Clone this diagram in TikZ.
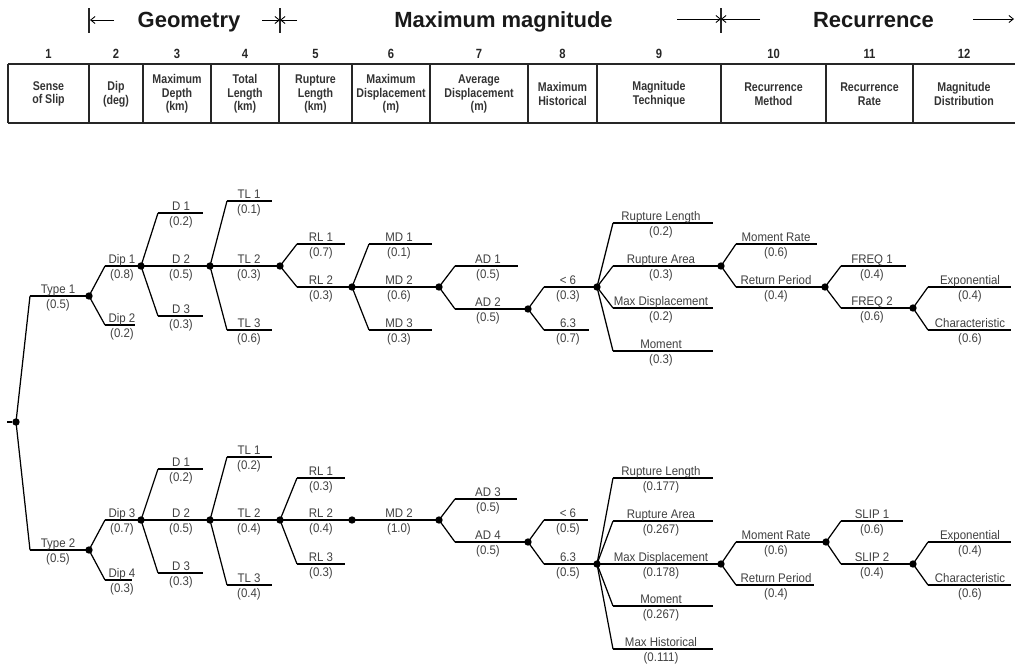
\documentclass[tikz,border=0pt]{standalone}
\usepackage{fontspec}
\setmainfont{Liberation Sans}
\newfontfamily\narrowfont{Liberation Sans}[FakeStretch=0.92]
\newfontfamily\headfont{Liberation Sans}[FakeStretch=0.84]
\usetikzlibrary{arrows.meta}

% one branch: style, name, parent dot, bend x, y, end x, label x, text, weight
\newcommand{\branch}[9]{%
  \coordinate (#2-b) at (#4,#5);
  \coordinate (#2-e) at (#6,#5);
  \draw[slantline] (#3.center) -- (#2-b);
  \draw[#1] (#2-b) -- (#2-e);
  \node[lbl] (#2-t) at (#7,#5-2.7) {#8};
  \node[lbl] (#2-p) at (#7,#5+12) {(#9)};
}

\begin{document}
\begin{tikzpicture}[x=0.02cm, y=-0.02cm,
  slantline/.style={line width=0.7pt},
  hthick/.style={line width=1.2pt},
  hthin/.style={line width=0.7pt},
  tabline/.style={line width=0.6pt, black!85},
  dot/.style={circle, fill=black, inner sep=0pt, minimum size=4.2pt},
  lbl/.style={anchor=base, inner sep=0pt, text=black!75, font=\narrowfont\fontsize{7.1}{8}\selectfont},
  headcell/.style={align=center, inner sep=0pt, text=black!80, font=\headfont\bfseries\fontsize{7.2}{7.8}\selectfont},
  colnum/.style={anchor=base, inner sep=0pt, text=black!85, font=\headfont\bfseries\fontsize{7.6}{8}\selectfont},
  bigtitle/.style={anchor=base, inner sep=0pt, text=black!90, font=\bfseries\fontsize{12.5}{14}\selectfont},
  spanarrow/.style={line width=0.5pt, -{Straight Barb[length=2.5pt,width=4pt]}}]
  \useasboundingbox (0,0) rectangle (1015,664);

  % ---------- Groups ----------
  \node[bigtitle] (geo) at (189,27) {Geometry};
  \node[bigtitle] (mag) at (503.5,27) {Maximum magnitude};
  \node[bigtitle] (rec) at (873.5,27) {Recurrence};
  \foreach \x in {89,280,721}
    \draw[tabline] (\x,8) -- (\x,33);
  \draw[spanarrow] (114,20) -- (90,20);
  \draw[spanarrow] (262,20) -- (280,20);
  \draw[spanarrow] (297,20) -- (280,20);
  \draw[spanarrow] (677,19) -- (721,19);
  \draw[spanarrow] (760,19) -- (721,19);
  \draw[spanarrow] (973,19) -- (1014,19);

  % ---------- Table ----------
  \draw[tabline] (8,64) -- (1015,64);
  \draw[tabline] (8,123) -- (1015,123);
  \foreach \x in {8,89,143,211,279,352,430,528,597,721,826,913}
    \draw[tabline] (\x,64) -- (\x,123);
  \foreach \i/\cx/\txt in {1/48.5/{Sense\\of Slip}, 2/116/{Dip\\(deg)},
      3/177/{Maximum\\Depth\\(km)}, 4/245/{Total\\Length\\(km)},
      5/315.5/{Rupture\\Length\\(km)}, 6/391/{Maximum\\Displacement\\(m)},
      7/479/{Average\\Displacement\\(m)}, 8/562.5/{Maximum\\Historical},
      9/659/{Magnitude\\Technique}, 10/773.5/{Recurrence\\Method},
      11/869.5/{Recurrence\\Rate}, 12/964/{Magnitude\\Distribution}} {
    \node[colnum] (n\i) at (\cx,58) {\i};
    \node[headcell] (h\i) at (\cx,94) {\txt};
  }

  % ---------- Root ----------
  \node[dot] (root) at (16,422) {};
  \coordinate (in) at (7,422);
  \draw[hthick] (in) -- (root);

  % ---------- Upper tree ----------
  \branch{hthick}{ut1}{root}{30}{296}{89}{58}{Type 1}{0.5}
  \node[dot] (A1) at (ut1-e) {};
  \branch{hthick}{udip1}{A1}{105}{266}{141}{122}{Dip 1}{0.8}
  \node[dot] (A2) at (udip1-e) {};
  \branch{hthick}{udip2}{A1}{105}{325}{135}{122}{Dip 2}{0.2}
  \branch{hthick}{ud1}{A2}{158}{213}{203}{181}{D 1}{0.2}
  \branch{hthick}{ud2}{A2}{141}{266}{210}{181}{D 2}{0.5}
  \node[dot] (A3) at (ud2-e) {};
  \branch{hthin}{ud3}{A2}{158}{316}{203}{181}{D 3}{0.3}
  \branch{hthick}{utl1}{A3}{227}{201}{272}{249}{TL 1}{0.1}
  \branch{hthick}{utl2}{A3}{210}{266}{280}{249}{TL 2}{0.3}
  \node[dot] (A4) at (utl2-e) {};
  \branch{hthick}{utl3}{A3}{227}{330}{272}{249}{TL 3}{0.6}
  \branch{hthick}{url1}{A4}{297}{244}{345}{321}{RL 1}{0.7}
  \branch{hthick}{url2}{A4}{297}{287}{352}{321}{RL 2}{0.3}
  \node[dot] (A5) at (url2-e) {};
  \branch{hthick}{umd1}{A5}{369}{244}{432}{399}{MD 1}{0.1}
  \branch{hthick}{umd2}{A5}{352}{287}{439}{399}{MD 2}{0.6}
  \node[dot] (A6) at (umd2-e) {};
  \branch{hthick}{umd3}{A5}{369}{330}{432}{399}{MD 3}{0.3}
  \branch{hthick}{uad1}{A6}{455}{266}{518}{488}{AD 1}{0.5}
  \branch{hthick}{uad2}{A6}{455}{309}{528}{488}{AD 2}{0.5}
  \node[dot] (A7) at (uad2-e) {};
  \branch{hthick}{umh1}{A7}{544}{287}{597}{568}{< 6}{0.3}
  \node[dot] (A8) at (umh1-e) {};
  \branch{hthick}{umh2}{A7}{544}{330}{589}{568}{6.3}{0.7}
  \branch{hthick}{umt1}{A8}{613}{223}{713}{661}{Rupture Length}{0.2}
  \branch{hthick}{umt2}{A8}{613}{266}{721}{661}{Rupture Area}{0.3}
  \node[dot] (A9) at (umt2-e) {};
  \branch{hthick}{umt3}{A8}{613}{308}{713}{661}{Max Displacement}{0.2}
  \branch{hthick}{umt4}{A8}{613}{351}{713}{661}{Moment}{0.3}
  \branch{hthick}{urm1}{A9}{736}{244}{817}{776}{Moment Rate}{0.6}
  \branch{hthick}{urm2}{A9}{736}{287}{825}{776}{Return Period}{0.4}
  \node[dot] (A10) at (urm2-e) {};
  \branch{hthick}{urr1}{A10}{841}{266}{906}{872}{FREQ 1}{0.4}
  \branch{hthick}{urr2}{A10}{841}{308}{913}{872}{FREQ 2}{0.6}
  \node[dot] (A11) at (urr2-e) {};
  \branch{hthick}{udist1}{A11}{928}{287}{1011}{970}{Exponential}{0.4}
  \branch{hthick}{udist2}{A11}{928}{330}{1011}{970}{Characteristic}{0.6}

  % ---------- Lower tree ----------
  \branch{hthick}{lt2}{root}{30}{550}{89}{58}{Type 2}{0.5}
  \node[dot] (B1) at (lt2-e) {};
  \branch{hthin}{ldip3}{B1}{105}{520}{141}{122}{Dip 3}{0.7}
  \node[dot] (B2) at (ldip3-e) {};
  \branch{hthick}{ldip4}{B1}{105}{580}{132}{122}{Dip 4}{0.3}
  \branch{hthick}{ld1}{B2}{158}{469}{203}{181}{D 1}{0.2}
  \branch{hthin}{ld2}{B2}{141}{520}{210}{181}{D 2}{0.5}
  \node[dot] (B3) at (ld2-e) {};
  \branch{hthick}{ld3}{B2}{158}{573}{203}{181}{D 3}{0.3}
  \branch{hthick}{ltl1}{B3}{227}{457}{272}{249}{TL 1}{0.2}
  \branch{hthin}{ltl2}{B3}{210}{520}{280}{249}{TL 2}{0.4}
  \node[dot] (B4) at (ltl2-e) {};
  \branch{hthick}{ltl3}{B3}{227}{585}{272}{249}{TL 3}{0.4}
  \branch{hthick}{lrl1}{B4}{297}{478}{345}{321}{RL 1}{0.3}
  \branch{hthin}{lrl2}{B4}{280}{520}{352}{321}{RL 2}{0.4}
  \node[dot] (B5) at (lrl2-e) {};
  \branch{hthick}{lrl3}{B4}{297}{564}{345}{321}{RL 3}{0.3}
  \branch{hthin}{lmd2}{B5}{352}{520}{439}{399}{MD 2}{1.0}
  \node[dot] (B6) at (lmd2-e) {};
  \branch{hthick}{lad3}{B6}{455}{499}{517}{488}{AD 3}{0.5}
  \branch{hthick}{lad4}{B6}{455}{542}{528}{488}{AD 4}{0.5}
  \node[dot] (B7) at (lad4-e) {};
  \branch{hthin}{lmh1}{B7}{544}{520}{588}{568}{< 6}{0.5}
  \branch{hthick}{lmh2}{B7}{544}{564}{597}{568}{6.3}{0.5}
  \node[dot] (B8) at (lmh2-e) {};
  \branch{hthick}{lmt1}{B8}{613}{478}{713}{661}{Rupture Length}{0.177}
  \branch{hthin}{lmt2}{B8}{613}{521}{713}{661}{Rupture Area}{0.267}
  \branch{hthick}{lmt3}{B8}{597}{564}{721}{661}{Max Displacement}{0.178}
  \node[dot] (B9) at (lmt3-e) {};
  \branch{hthick}{lmt4}{B8}{613}{606}{713}{661}{Moment}{0.267}
  \branch{hthick}{lmt5}{B8}{613}{649}{713}{661}{Max Historical}{0.111}
  \branch{hthick}{lrm1}{B9}{736}{542}{826}{776}{Moment Rate}{0.6}
  \node[dot] (B10) at (lrm1-e) {};
  \branch{hthick}{lrm2}{B9}{736}{585}{814}{776}{Return Period}{0.4}
  \branch{hthin}{lrr1}{B10}{841}{521}{903}{872}{SLIP 1}{0.6}
  \branch{hthick}{lrr2}{B10}{841}{564}{913}{872}{SLIP 2}{0.4}
  \node[dot] (B11) at (lrr2-e) {};
  \branch{hthick}{ldist1}{B11}{928}{542}{1011}{970}{Exponential}{0.4}
  \branch{hthick}{ldist2}{B11}{928}{585}{1011}{970}{Characteristic}{0.6}
\end{tikzpicture}
\end{document}
